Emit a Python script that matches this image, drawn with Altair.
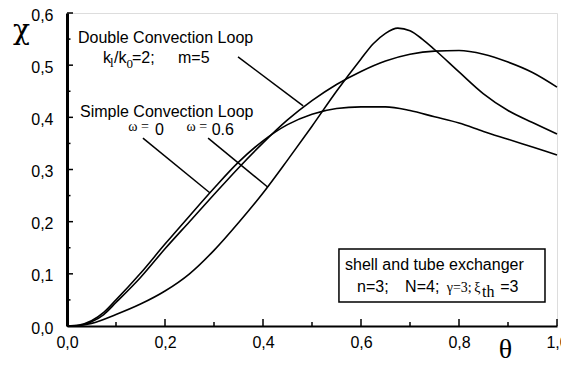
import altair as alt
import pandas as pd

# ---------------- data ----------------
theta_A = [0, 0.025, 0.05, 0.075, 0.1, 0.15, 0.2, 0.25, 0.3, 0.35, 0.4, 0.45, 0.5, 0.55, 0.6, 0.65, 0.7, 0.75, 0.8, 0.85, 0.9, 0.95, 1.0]
chi_A = [0, 0.001, 0.008, 0.022, 0.045, 0.093, 0.148, 0.200, 0.252, 0.303, 0.351, 0.395, 0.432, 0.463, 0.488, 0.508, 0.521, 0.527, 0.528, 0.521, 0.506, 0.486, 0.458]

theta_B = [0, 0.025, 0.05, 0.075, 0.1, 0.15, 0.2, 0.25, 0.3, 0.35, 0.4, 0.45, 0.5, 0.55, 0.6, 0.65, 0.7, 0.75, 0.8, 0.85, 0.9, 0.95, 1.0]
chi_B = [0, 0.002, 0.010, 0.026, 0.050, 0.101, 0.157, 0.211, 0.264, 0.314, 0.355, 0.386, 0.406, 0.417, 0.420, 0.420, 0.413, 0.401, 0.389, 0.373, 0.358, 0.343, 0.328]

theta_C = [0, 0.025, 0.05, 0.1, 0.15, 0.2, 0.25, 0.3, 0.35, 0.4, 0.45, 0.5, 0.55, 0.6, 0.625, 0.65, 0.675, 0.7, 0.725, 0.75, 0.8, 0.85, 0.9, 0.95, 1.0]
chi_C = [0, 0.001, 0.005, 0.022, 0.042, 0.067, 0.100, 0.145, 0.198, 0.255, 0.318, 0.383, 0.450, 0.512, 0.541, 0.561, 0.571, 0.566, 0.550, 0.530, 0.487, 0.445, 0.413, 0.390, 0.368]

x_major = [0.0, 0.2, 0.4, 0.6, 0.8, 1.0]
x_minor = [0.1, 0.3, 0.5, 0.7, 0.9]
y_major = [0.0, 0.1, 0.2, 0.3, 0.4, 0.5, 0.6]
y_minor = [0.05, 0.15, 0.25, 0.35, 0.45, 0.55]

# leader lines (theta, chi) start -> end
lead_x = [0.349, 0.155, 0.288]
lead_y = [0.516, 0.360, 0.360]
lead_x2 = [0.482, 0.292, 0.410]
lead_y2 = [0.422, 0.255, 0.266]

# legend box
box_x, box_x2 = [0.555], [0.9755]
box_y, box_y2 = [0.1476], [0.046]

# annotation texts
sans_text = ["Double Convection Loop", "k", "/k", "=2;", "m=5", "Simple Convection Loop", "0", "0.6",
             "shell and tube exchanger", "n=3;", "N=4;", "=3"]
sans_x = [0.0224, 0.0735, 0.0959, 0.1327, 0.2265, 0.0265, 0.1796, 0.2952, 0.5673, 0.592, 0.690, 0.884]
sans_y = [0.542, 0.505, 0.505, 0.505, 0.505, 0.401, 0.366, 0.366, 0.107, 0.0658, 0.0658, 0.0658]

sub_text = ["l", "0"]
sub_x = [0.0878, 0.1215]
sub_y = [0.497, 0.4945]

serif_text = ["ω =", "ω =", "γ=3;", "ξ"]
serif_x = [0.1251, 0.244, 0.775, 0.831]
serif_y = [0.3747, 0.3747, 0.0658, 0.0658]

thsub_text = ["th"]
thsub_x = [0.847]
thsub_y = [0.056]

# ---------------- build ----------------
curves = pd.concat([
    pd.DataFrame({"theta": theta_A, "chi": chi_A, "s": "A", "o": range(len(theta_A))}),
    pd.DataFrame({"theta": theta_B, "chi": chi_B, "s": "B", "o": range(len(theta_B))}),
    pd.DataFrame({"theta": theta_C, "chi": chi_C, "s": "C", "o": range(len(theta_C))}),
])

W, H = 490, 313
xs = alt.Scale(domain=[0, 1], nice=False, zero=False)
ys = alt.Scale(domain=[0, 0.6], nice=False, zero=False)
lab = "replace(format(datum.value, '.1f'), '.', ',')"

xaxis = alt.Axis(values=x_major, labelExpr=lab, ticks=False, grid=False, domainWidth=2, domainColor="black",
                 labelFont="Liberation Sans", labelFontSize=16, labelColor="black", labelPadding=8,
                 labelFlush=False, labelOverlap=False,
                 title="θ", titleFont="Liberation Serif", titleFontSize=28, titleFontWeight="normal",
                 titleColor="black", titleX=438, titleY=31, titleAlign="center", titleBaseline="alphabetic")
yaxis = alt.Axis(values=y_major, labelExpr=lab, ticks=False, grid=False, domainWidth=3, domainColor="black",
                 labelFont="Liberation Sans", labelFontSize=16, labelColor="black", labelPadding=14, labelOffset=2,
                 labelFlush=False, labelOverlap=False,
                 title="χ", titleFont="DejaVu Serif", titleFontSize=28, titleFontWeight="normal",
                 titleColor="black", titleAngle=0, titleX=-46, titleY=25, titleAlign="center",
                 titleBaseline="alphabetic")

lines = alt.Chart(curves).mark_line(color="black", strokeWidth=1.6, interpolate="monotone").encode(
    x=alt.X("theta:Q", scale=xs, axis=xaxis),
    y=alt.Y("chi:Q", scale=ys, axis=yaxis),
    detail="s:N", order="o:Q")

def tick_layer(vals, axis, length):
    df = pd.DataFrame({"v": vals})
    if axis == "x":
        return alt.Chart(df).mark_rule(color="black", strokeWidth=1.5).encode(
            x=alt.X("v:Q", scale=xs), y=alt.value(H), y2=alt.value(H - length))
    return alt.Chart(df).mark_rule(color="black", strokeWidth=1.5).encode(
        y=alt.Y("v:Q", scale=ys), x=alt.value(0), x2=alt.value(length))

ticks = [tick_layer(x_major, "x", 7), tick_layer(x_minor, "x", 4),
         tick_layer(y_major, "y", 6), tick_layer(y_minor, "y", 3.5)]

leaders = alt.Chart(pd.DataFrame({"x": lead_x, "y": lead_y, "x2": lead_x2, "y2": lead_y2})).mark_rule(
    color="black", strokeWidth=1.5).encode(
    x=alt.X("x:Q", scale=xs), y=alt.Y("y:Q", scale=ys), x2="x2:Q", y2="y2:Q")

box = alt.Chart(pd.DataFrame({"x": box_x, "x2": box_x2, "y": box_y, "y2": box_y2})).mark_rect(
    fill="white", stroke="black", strokeWidth=1.5).encode(
    x=alt.X("x:Q", scale=xs), x2="x2:Q", y=alt.Y("y:Q", scale=ys), y2="y2:Q")

def text_layer(txt, xv, yv, font, size):
    df = pd.DataFrame({"t": txt, "x": xv, "y": yv})
    return alt.Chart(df).mark_text(align="left", baseline="alphabetic", font=font, fontSize=size,
                                   color="black").encode(
        x=alt.X("x:Q", scale=xs), y=alt.Y("y:Q", scale=ys), text="t:N")

texts = [text_layer(sans_text, sans_x, sans_y, "Liberation Sans", 16),
         text_layer(sub_text, sub_x, sub_y, "Liberation Serif", 13),
         text_layer(serif_text, serif_x, serif_y, "Liberation Serif", 14),
         text_layer(thsub_text, thsub_x, thsub_y, "Liberation Serif", 16)]

chart = alt.layer(lines, *ticks, leaders, box, *texts).properties(
    width=W, height=H,
    autosize=alt.AutoSizeParams(type="none"),
    padding={"left": 59, "top": 5, "right": 4, "bottom": 36},
).configure_view(stroke="black", strokeWidth=2).configure(background="white")

chart.save("out.html", embed_options={"renderer": "svg", "actions": False})
